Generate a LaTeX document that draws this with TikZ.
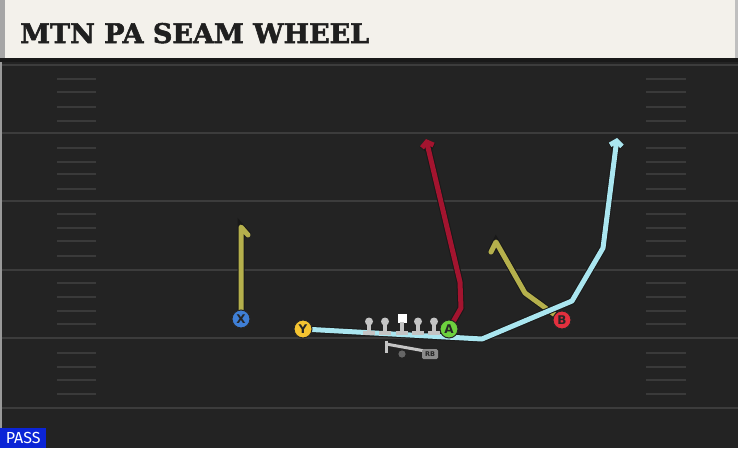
\documentclass[tikz,border=0pt]{standalone}
\usepackage{fontspec}
\setmainfont{DejaVu Sans}
\newfontfamily\titlefont[FakeBold=2]{DejaVu Serif Bold}
\newfontfamily\passfont{Fira Sans}
\usetikzlibrary{arrows.meta}
\definecolor{bg}{HTML}{232323}
\definecolor{hdr}{HTML}{F3F1EB}
\definecolor{hdrtext}{HTML}{1F1F1F}
\definecolor{fline}{HTML}{3C3C3C}
\definecolor{hashc}{HTML}{3A3A3A}
\definecolor{redroute}{HTML}{A3142F}
\definecolor{blueroute}{HTML}{AAE6F0}
\definecolor{oliveroute}{HTML}{B5B04C}
\definecolor{xblue}{HTML}{3F7FD6}
\definecolor{yyellow}{HTML}{F5C431}
\definecolor{agreen}{HTML}{6DD13E}
\definecolor{bred}{HTML}{E3303E}
\definecolor{lineman}{HTML}{C4C4C4}
\definecolor{passblue}{HTML}{0B24D6}
\tikzset{
  fieldline/.style={draw=fline, line width=2.2pt},
  hashmark/.style={draw=hashc, line width=1.8pt},
  route/.style={draw=#1, line width=5pt, line join=round, line cap=round,
     preaction={draw=black!90, line width=7pt}},
  routetip/.style={-{Straight Barb[length=4.5pt,width=12pt]}},
  player/.style={circle, draw=black!85, line width=1pt, minimum size=18pt, inner sep=0pt,
     font=\bfseries\fontsize{12}{12}\selectfont, text=black!85},
  lm/.style={draw=lineman, line width=3.2pt},
}
\begin{document}
\begin{tikzpicture}[x=1pt,y=-1pt]
\useasboundingbox (0,0) rectangle (738,448);
\fill[bg] (0,0) rectangle (738,448);
\fill[black!40] (0,62) rectangle (2,448);
% header
\fill[hdr] (0,0) rectangle (738,58);
\fill[black!35] (0,0) rectangle (5,58);
\fill[black!25] (735,0) rectangle (738,58);
\fill[black!90] (0,58) rectangle (738,62);
\node[anchor=base west, inner sep=0pt, text=hdrtext, font=\titlefont\fontsize{27}{27}\selectfont] (title) at (20,43) {MTN PA SEAM WHEEL};
% field lines
\foreach \y in {65,133,201,270,338,408} \draw[fieldline] (2,\y) -- (738,\y);
\foreach \y in {79,92,107,121,148,162,174,189,214,228,241,256,283,297,311,324,353,367,380,394}
  {\draw[hashmark] (57,\y) -- (96,\y); \draw[hashmark] (646,\y) -- (686,\y);}
% player positions
\coordinate (px) at (241,319);
\coordinate (py) at (303,329);
\coordinate (pa) at (449,329);
\coordinate (pb) at (562,320);
\coordinate (xtop) at (241,227);
\coordinate (xhook) at (248,235);
\coordinate (b1) at (525,293);
\coordinate (btop) at (496,242);
\coordinate (bhook) at (491,252);
\coordinate (a1) at (461,308);
\coordinate (a2) at (460,282);
\coordinate (aend) at (426,139);
\coordinate (y1) at (482,339);
\coordinate (y2) at (572,301);
\coordinate (y3) at (603,248);
\coordinate (yend) at (617,138);
% routes
\draw[route=oliveroute] (px) -- (xtop) -- (xhook);
\draw[route=oliveroute] (pb) -- (b1) -- (btop) -- (bhook);
\draw[route=redroute, routetip] (pa) -- (a1) -- (a2) -- (aend);
\draw[route=blueroute, routetip] (py) -- (y1) -- (y2) -- (y3) -- (yend);
% offensive line
\foreach \x in {369,385,418,434} {
  \fill[lineman] (\x,321.5) circle (4pt);
  \draw[lm] (\x,322) -- (\x,332);
  \draw[lm, line width=4pt] (\x-6,333) -- (\x+6,333);
}
\fill[white] (397.5,313.5) rectangle (406.5,322.5);
\draw[lm] (402,322) -- (402,332);
\draw[lm, line width=4pt] (396,333) -- (408,333);
% QB / RB
\draw[lm, line width=3pt] (386,340.5) -- (386,352.5);
\draw[lm, line width=3pt] (386,344) -- (425,351);
\fill[black!60] (402,354) circle (3.6pt);
\node[fill=black!45, rounded corners=1.5pt, inner sep=1.2pt, minimum width=16pt, minimum height=10pt, font=\bfseries\fontsize{6.5}{6.5}\selectfont, text=black!85] (rb) at (430,354) {RB};
% players
\node[player, fill=xblue] (X) at (px) {X};
\node[player, fill=yyellow] (Y) at (py) {Y};
\node[player, fill=agreen] (A) at (pa) {A};
\node[player, fill=bred] (B) at (pb) {B};
% pass tag
\node[fill=passblue, text=white, anchor=south west, inner sep=0pt, minimum width=46pt, minimum height=20pt, font=\passfont\fontsize{16}{16}\selectfont] (pass) at (0,448) {PASS};
\end{tikzpicture}
\end{document}
